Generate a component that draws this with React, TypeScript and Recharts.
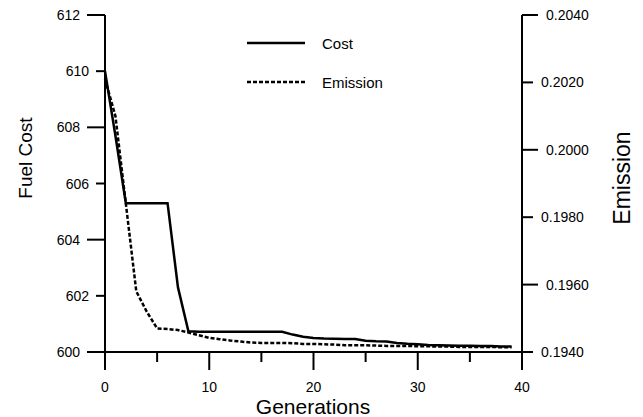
import React from 'react';
import { LineChart, Line, XAxis, YAxis, Legend } from 'recharts';

const generations = [
  0, 1, 2, 3, 4, 5, 6, 7, 8, 9, 10, 11, 12, 13, 14, 15, 16, 17, 18, 19,
  20, 21, 22, 23, 24, 25, 26, 27, 28, 29, 30, 31, 32, 33, 34, 35, 36, 37, 38, 39,
];
const costValues = [
  610.0, 607.7, 605.3, 605.3, 605.3, 605.3, 605.3, 602.3, 600.74, 600.72,
  600.72, 600.72, 600.72, 600.72, 600.72, 600.72, 600.72, 600.72, 600.62, 600.54,
  600.5, 600.48, 600.47, 600.46, 600.46, 600.4, 600.38, 600.37, 600.32, 600.29,
  600.28, 600.25, 600.24, 600.23, 600.22, 600.22, 600.21, 600.21, 600.2, 600.2,
];
const emissionValues = [
  0.2021, 0.201, 0.1984, 0.1958, 0.1952, 0.1947, 0.19468, 0.19465, 0.19458, 0.1945,
  0.19442, 0.19438, 0.19434, 0.19431, 0.19428, 0.19427, 0.19427, 0.19427, 0.19426, 0.19424,
  0.19424, 0.19423, 0.19422, 0.1942, 0.1942, 0.1942, 0.19419, 0.19418, 0.19418, 0.19418,
  0.19417, 0.19417, 0.19416, 0.19416, 0.19415, 0.19415, 0.19415, 0.19415, 0.19414, 0.19414,
];
const xTicks = [0, 5, 10, 15, 20, 25, 30, 35, 40];
const costTicks = [600, 602, 604, 606, 608, 610, 612];
const emissionTicks = [0.194, 0.196, 0.198, 0.2, 0.202, 0.204];

const data = generations.map((g, i) => ({
  gen: g,
  cost: costValues[i],
  emission: emissionValues[i],
}));

const FONT = '"Liberation Sans", Arial, sans-serif';

const LeftTick = ({ x, y, payload }: any) => {
  const major = payload.value % 4 === 0;
  const len = major ? 18 : 9;
  return (
    <g>
      <line x1={x} x2={x - len} y1={y} y2={y} stroke="#000" strokeWidth={2} />
      <text x={x - len - 7} y={y + 5} textAnchor="end" fontSize={14} fontFamily={FONT} fill="#000">
        {payload.value}
      </text>
    </g>
  );
};

const RightTick = ({ x, y, payload }: any) => {
  const major = Math.round(payload.value * 1000) % 4 === 0;
  const len = major ? 16 : 11;
  return (
    <g>
      <line x1={x} x2={x + len} y1={y} y2={y} stroke="#000" strokeWidth={2} />
      <text x={x + len + 8} y={y + 5} textAnchor="start" fontSize={14} fontFamily={FONT} fill="#000">
        {payload.value.toFixed(4)}
      </text>
    </g>
  );
};

const BottomTick = ({ x, y, payload }: any) => {
  const major = payload.value % 10 === 0;
  const len = major ? 18 : 10;
  return (
    <g>
      <line x1={x} x2={x} y1={y} y2={y + len} stroke="#000" strokeWidth={2} />
      {major && (
        <text x={x} y={y + 40} textAnchor="middle" fontSize={14} fontFamily={FONT} fill="#000">
          {payload.value}
        </text>
      )}
    </g>
  );
};

const LegendBox = () => (
  <svg width={160} height={60}>
    <line x1={2} x2={60} y1={10} y2={10} stroke="#000" strokeWidth={2.5} />
    <text x={77} y={16} fontSize={15} fontFamily={FONT} fill="#000">Cost</text>
    <line x1={2} x2={60} y1={49} y2={49} stroke="#000" strokeWidth={2.5} strokeDasharray="4 2" />
    <text x={77} y={55} fontSize={15} fontFamily={FONT} fill="#000">Emission</text>
  </svg>
);

const FuelTitle = () => (
  <text x={25} y={158} transform="rotate(-90 25 158)" textAnchor="middle" dominantBaseline="central"
    fontSize={19} fontFamily={FONT} fill="#000">
    Fuel Cost
  </text>
);

const EmissionTitle = () => (
  <text x={622} y={178} transform="rotate(-90 622 178)" textAnchor="middle" dominantBaseline="central"
    fontSize={23} fontFamily={FONT} fill="#000">
    Emission
  </text>
);

const GenTitle = () => (
  <text x={313} y={414} textAnchor="middle" fontSize={21} fontFamily={FONT} fill="#000">
    Generations
  </text>
);

export default function App() {
  return (
    <div style={{ position: 'absolute', left: 0, top: 0, background: '#fff' }}>
      <LineChart width={643} height={417} data={data} margin={{ top: 15, right: 0, bottom: 0, left: 0 }}>
        <XAxis
          dataKey="gen"
          type="number"
          domain={[0, 40]}
          ticks={xTicks}
          height={65}
          tickSize={0}
          tickMargin={0}
          tickLine={false}
          tick={<BottomTick />}
          axisLine={{ stroke: '#000', strokeWidth: 2 }}
          label={<GenTitle />}
        />
        <YAxis
          yAxisId="left"
          orientation="left"
          domain={[600, 612]}
          ticks={costTicks}
          width={105}
          tickSize={0}
          tickMargin={0}
          tickLine={false}
          tick={<LeftTick />}
          axisLine={{ stroke: '#000', strokeWidth: 2 }}
          label={<FuelTitle />}
        />
        <YAxis
          yAxisId="right"
          orientation="right"
          domain={[0.194, 0.204]}
          ticks={emissionTicks}
          width={121}
          tickSize={0}
          tickMargin={0}
          tickLine={false}
          tick={<RightTick />}
          axisLine={{ stroke: '#000', strokeWidth: 2 }}
          label={<EmissionTitle />}
        />
        <Legend
          layout="vertical"
          align="center"
          verticalAlign="middle"
          content={<LegendBox />}
          wrapperStyle={{ position: 'absolute', left: 245, top: 33, width: 160, height: 60 }}
        />
        <Line
          yAxisId="left"
          dataKey="cost"
          type="linear"
          stroke="#000"
          strokeWidth={2.5}
          dot={false}
          isAnimationActive={false}
        />
        <Line
          yAxisId="right"
          dataKey="emission"
          type="linear"
          stroke="#000"
          strokeWidth={2.5}
          strokeDasharray="4 2"
          dot={false}
          isAnimationActive={false}
        />
      </LineChart>
    </div>
  );
}
